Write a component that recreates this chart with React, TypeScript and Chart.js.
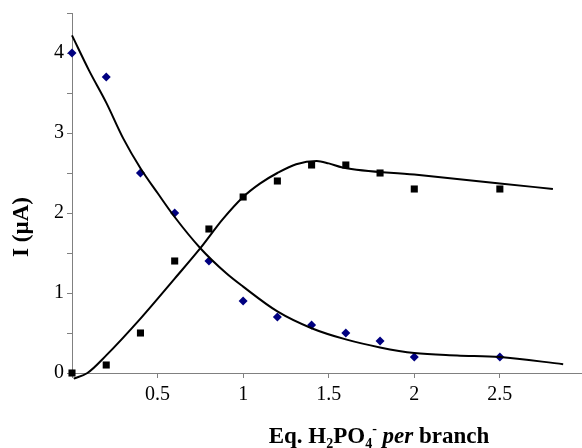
import React, { useEffect, useRef } from 'react';
import { Chart, registerables } from 'chart.js';

Chart.register(...registerables);

// Measured data points
const eqX = [0, 0.2, 0.4, 0.6, 0.8, 1.0, 1.2, 1.4, 1.6, 1.8, 2.0, 2.5];
const diamondY = [4.0, 3.7, 2.5, 2.0, 1.4, 0.9, 0.7, 0.6, 0.5, 0.4, 0.2, 0.2];
const squareY = [0, 0.1, 0.5, 1.4, 1.8, 2.2, 2.4, 2.6, 2.6, 2.5, 2.3, 2.3];

// Fitted curves
const fitDecX = [0, 0.1, 0.2, 0.3, 0.4, 0.5, 0.6, 0.75, 0.9, 1.0, 1.2, 1.4, 1.6, 1.8, 2.0, 2.25, 2.5, 2.87];
const fitDecY = [4.22, 3.78, 3.38, 2.93, 2.56, 2.25, 1.95, 1.56, 1.25, 1.08, 0.77, 0.56, 0.42, 0.32, 0.25, 0.22, 0.2, 0.11];
const fitIncX = [0.01, 0.09, 0.2, 0.4, 0.6, 0.75, 0.88, 1.0, 1.1, 1.2, 1.31, 1.43, 1.5, 1.58, 2.0, 2.5, 2.81];
const fitIncY = [-0.07, 0, 0.22, 0.68, 1.18, 1.56, 1.92, 2.2, 2.37, 2.5, 2.61, 2.65, 2.62, 2.57, 2.48, 2.37, 2.3];

const xTicks = [0, 0.5, 1, 1.5, 2, 2.5];
const yTicks = [0, 0.5, 1, 1.5, 2, 2.5, 3, 3.5, 4, 4.5];
const xMin = 0;
const xMax = 2.98;
const yMin = 0;
const yMax = 4.5;

const SERIF = '"Liberation Serif", "Times New Roman", serif';

const titlePlugin = {
  id: 'richTitles',
  afterDraw(chart: any) {
    const ctx = chart.ctx as CanvasRenderingContext2D;
    ctx.save();
    ctx.fillStyle = '#000';
    // Y title
    ctx.save();
    ctx.translate(22, 227);
    ctx.rotate(-Math.PI / 2);
    ctx.font = `bold 23px ${SERIF}`;
    ctx.textAlign = 'center';
    ctx.textBaseline = 'middle';
    ctx.fillText('I (µA)', 0, 0);
    ctx.restore();

    // X title with subscripts
    const big = 23;
    const small = 14;
    const segs = [
      { t: 'Eq. H', f: `bold ${big}px ${SERIF}`, dy: 0 },
      { t: '2', f: `bold ${small}px ${SERIF}`, dy: 5 },
      { t: 'PO', f: `bold ${big}px ${SERIF}`, dy: 0 },
      { t: '4', f: `bold ${small}px ${SERIF}`, dy: 5 },
      { t: '-', f: `bold ${small}px ${SERIF}`, dy: -10 },
      { t: ' ', f: `bold ${big}px ${SERIF}`, dy: 0 },
      { t: 'per', f: `italic bold ${big}px ${SERIF}`, dy: 0 },
      { t: ' branch', f: `bold ${big}px ${SERIF}`, dy: 0 },
    ];
    ctx.textBaseline = 'alphabetic';
    ctx.textAlign = 'left';
    let total = 0;
    const widths: number[] = [];
    for (const s of segs) {
      ctx.font = s.f;
      const w = ctx.measureText(s.t).width;
      widths.push(w);
      total += w;
    }
    let x = 379 - total / 2;
    const base = 443;
    segs.forEach((s, i) => {
      ctx.font = s.f;
      ctx.fillText(s.t, x, base + s.dy);
      x += widths[i];
    });
    ctx.restore();
  },
};

export default function App() {
  const ref = useRef<HTMLCanvasElement | null>(null);

  useEffect(() => {
    if (!ref.current) return;
    const chart = new Chart(ref.current, {
      type: 'scatter',
      data: {
        datasets: [
          {
            label: 'fitDec',
            data: fitDecX.map((x, i) => ({ x, y: fitDecY[i] })),
            showLine: true,
            borderColor: '#000',
            borderWidth: 2,
            pointRadius: 0,
            cubicInterpolationMode: 'monotone',
            clip: false as any,
          },
          {
            label: 'fitInc',
            data: fitIncX.map((x, i) => ({ x, y: fitIncY[i] })),
            showLine: true,
            borderColor: '#000',
            borderWidth: 2,
            pointRadius: 0,
            cubicInterpolationMode: 'monotone',
            clip: false as any,
          },
          {
            label: 'diamonds',
            data: eqX.map((x, i) => ({ x, y: diamondY[i] })),
            pointStyle: 'rectRot',
            pointRadius: 4.5,
            backgroundColor: '#000080',
            borderColor: '#000080',
            borderWidth: 0,
            clip: false as any,
          },
          {
            label: 'squares',
            data: eqX.map((x, i) => ({ x, y: squareY[i] })),
            pointStyle: 'rect',
            pointRadius: 5,
            backgroundColor: '#000',
            borderColor: '#000',
            borderWidth: 0,
            clip: false as any,
          },
        ],
      },
      options: {
        animation: false,
        responsive: false,
        layout: { autoPadding: false, padding: { top: 13, left: 0, right: 0, bottom: 0 } },
        plugins: {
          legend: { display: false },
          tooltip: { enabled: false },
          title: { display: false },
        },
        scales: {
          x: {
            type: 'linear',
            min: xMin,
            max: xMax,
            afterBuildTicks: (s: any) => {
              s.ticks = xTicks.map((v) => ({ value: v }));
            },
            afterFit: (s: any) => {
              s.height = 75;
              s.paddingLeft = 0;
              s.paddingRight = 0;
            },
            grid: { drawOnChartArea: false, drawTicks: true, tickLength: 5, color: '#808080' },
            border: { color: '#808080', width: 1 },
            ticks: {
              color: '#000',
              font: { family: SERIF, size: 20 },
              padding: 5,
              maxRotation: 0,
              callback: (v: any) => (v === 0 ? '' : String(v)),
            },
          },
          y: {
            type: 'linear',
            min: yMin,
            max: yMax,
            afterBuildTicks: (s: any) => {
              s.ticks = yTicks.map((v) => ({ value: v }));
            },
            afterFit: (s: any) => {
              s.width = 72;
              s.paddingTop = 0;
              s.paddingBottom = 0;
            },
            grid: { drawOnChartArea: false, drawTicks: true, tickLength: 5, color: '#808080' },
            border: { color: '#808080', width: 1 },
            ticks: {
              color: '#000',
              font: { family: SERIF, size: 20 },
              padding: 3,
              callback: (v: any) => (Number.isInteger(v) ? String(v) : ''),
            },
          },
        },
      },
      plugins: [titlePlugin],
    });
    return () => chart.destroy();
  }, []);

  return (
    <div style={{ position: 'absolute', left: 0, top: 0, width: 582, height: 448, background: '#fff' }}>
      <canvas ref={ref} width={582} height={448} />
    </div>
  );
}
